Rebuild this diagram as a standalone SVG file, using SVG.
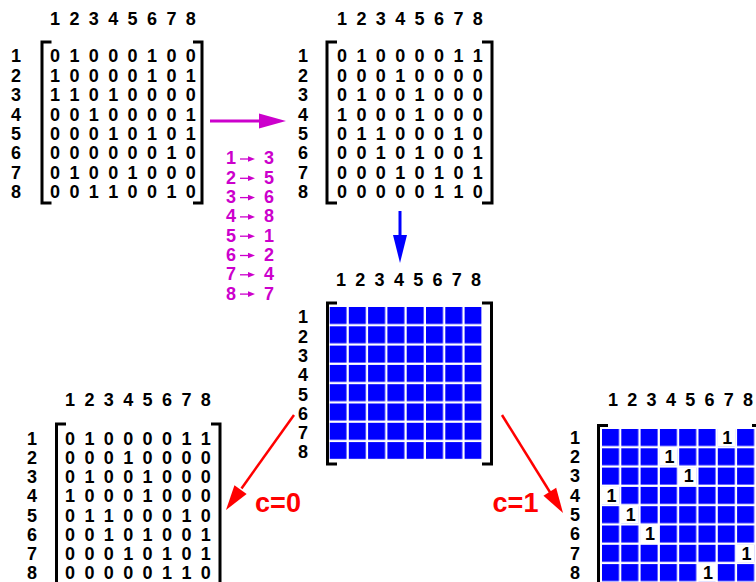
<svg xmlns="http://www.w3.org/2000/svg" xmlns:xlink="http://www.w3.org/1999/xlink" width="756" height="582" viewBox="0 0 756 582">
<style>
text{font-family:"Liberation Sans",Arial,sans-serif;font-weight:bold;font-size:18px;fill:#000;text-anchor:middle}
.br{fill:none;stroke:#000;stroke-width:3}
.mg{fill:#CC00CC}
.rl{fill:#FF0000;font-size:27px}
</style>
<defs>
<pattern id="cells" patternUnits="userSpaceOnUse" x="329.5" y="307" width="19.3" height="19.3"><rect x="0" y="0" width="17" height="17" fill="#0000FF"/></pattern>
<pattern id="cells2" patternUnits="userSpaceOnUse" x="602" y="429" width="19.3" height="19.3"><rect x="0" y="0" width="17" height="17" fill="#0000FF"/></pattern>
<g id="sa"><path d="M0 0 H9" stroke="#CC00CC" stroke-width="1.3"/><polygon points="8,-2.8 15,0 8,2.8" fill="#CC00CC"/></g>
</defs>
<rect width="756" height="582" fill="#fff"/>

<g id="matrixA">
<text x="55 64.7 74.4 84.1 93.8 103.5 113.2 122.9 132.6 142.3 152 161.7 171.4 181.1 190.8" y="24.5">1 2 3 4 5 6 7 8</text>
<text x="16" y="62.4">1</text><text x="16" y="81.8">2</text><text x="16" y="101.2">3</text><text x="16" y="120.6">4</text><text x="16" y="140">5</text><text x="16" y="159.4">6</text><text x="16" y="178.8">7</text><text x="16" y="198.2">8</text>
<path class="br" d="M51.5 42 H42 V203 H51.5"/><path class="br" d="M193 42 H202 V203 H193"/>
<g>
<text x="55 64.7 74.4 84.1 93.8 103.5 113.2 122.9 132.6 142.3 152 161.7 171.4 181.1 190.8" y="62.4">0 1 0 0 0 1 0 0</text>
<text x="55 64.7 74.4 84.1 93.8 103.5 113.2 122.9 132.6 142.3 152 161.7 171.4 181.1 190.8" y="81.8">1 0 0 0 0 1 0 1</text>
<text x="55 64.7 74.4 84.1 93.8 103.5 113.2 122.9 132.6 142.3 152 161.7 171.4 181.1 190.8" y="101.2">1 1 0 1 0 0 0 0</text>
<text x="55 64.7 74.4 84.1 93.8 103.5 113.2 122.9 132.6 142.3 152 161.7 171.4 181.1 190.8" y="120.6">0 0 1 0 0 0 0 1</text>
<text x="55 64.7 74.4 84.1 93.8 103.5 113.2 122.9 132.6 142.3 152 161.7 171.4 181.1 190.8" y="140">0 0 0 1 0 1 0 1</text>
<text x="55 64.7 74.4 84.1 93.8 103.5 113.2 122.9 132.6 142.3 152 161.7 171.4 181.1 190.8" y="159.4">0 0 0 0 0 0 1 0</text>
<text x="55 64.7 74.4 84.1 93.8 103.5 113.2 122.9 132.6 142.3 152 161.7 171.4 181.1 190.8" y="178.8">0 1 0 0 1 0 0 0</text>
<text x="55 64.7 74.4 84.1 93.8 103.5 113.2 122.9 132.6 142.3 152 161.7 171.4 181.1 190.8" y="198.2">0 0 1 1 0 0 1 0</text>
</g>
</g>

<g id="matrixB">
<text x="342 351.7 361.4 371.1 380.8 390.5 400.2 409.9 419.6 429.3 439 448.7 458.4 468.1 477.8" y="24.5">1 2 3 4 5 6 7 8</text>
<text x="303" y="62.4">1</text><text x="303" y="81.8">2</text><text x="303" y="101.2">3</text><text x="303" y="120.6">4</text><text x="303" y="140">5</text><text x="303" y="159.4">6</text><text x="303" y="178.8">7</text><text x="303" y="198.2">8</text>
<path class="br" d="M337 42 H327 V203 H337"/><path class="br" d="M482 42 H492 V203 H482"/>
<g>
<text x="342 351.7 361.4 371.1 380.8 390.5 400.2 409.9 419.6 429.3 439 448.7 458.4 468.1 477.8" y="62.4">0 1 0 0 0 0 1 1</text>
<text x="342 351.7 361.4 371.1 380.8 390.5 400.2 409.9 419.6 429.3 439 448.7 458.4 468.1 477.8" y="81.8">0 0 0 1 0 0 0 0</text>
<text x="342 351.7 361.4 371.1 380.8 390.5 400.2 409.9 419.6 429.3 439 448.7 458.4 468.1 477.8" y="101.2">0 1 0 0 1 0 0 0</text>
<text x="342 351.7 361.4 371.1 380.8 390.5 400.2 409.9 419.6 429.3 439 448.7 458.4 468.1 477.8" y="120.6">1 0 0 0 1 0 0 0</text>
<text x="342 351.7 361.4 371.1 380.8 390.5 400.2 409.9 419.6 429.3 439 448.7 458.4 468.1 477.8" y="140">0 1 1 0 0 0 1 0</text>
<text x="342 351.7 361.4 371.1 380.8 390.5 400.2 409.9 419.6 429.3 439 448.7 458.4 468.1 477.8" y="159.4">0 0 1 0 1 0 0 1</text>
<text x="342 351.7 361.4 371.1 380.8 390.5 400.2 409.9 419.6 429.3 439 448.7 458.4 468.1 477.8" y="178.8">0 0 0 1 0 1 0 1</text>
<text x="342 351.7 361.4 371.1 380.8 390.5 400.2 409.9 419.6 429.3 439 448.7 458.4 468.1 477.8" y="198.2">0 0 0 0 0 1 1 0</text>
</g>
</g>

<g id="mapping">
<text class="mg" x="231" y="164.4">1</text><use xlink:href="#sa" href="#sa" x="240" y="159"/><text class="mg" x="269" y="164.4">3</text>
<text class="mg" x="231" y="183.7">2</text><use xlink:href="#sa" href="#sa" x="240" y="178.3"/><text class="mg" x="269" y="183.7">5</text>
<text class="mg" x="231" y="203">3</text><use xlink:href="#sa" href="#sa" x="240" y="197.6"/><text class="mg" x="269" y="203">6</text>
<text class="mg" x="231" y="222.3">4</text><use xlink:href="#sa" href="#sa" x="240" y="216.9"/><text class="mg" x="269" y="222.3">8</text>
<text class="mg" x="231" y="241.6">5</text><use xlink:href="#sa" href="#sa" x="240" y="236.2"/><text class="mg" x="269" y="241.6">1</text>
<text class="mg" x="231" y="260.9">6</text><use xlink:href="#sa" href="#sa" x="240" y="255.5"/><text class="mg" x="269" y="260.9">2</text>
<text class="mg" x="231" y="280.2">7</text><use xlink:href="#sa" href="#sa" x="240" y="274.8"/><text class="mg" x="269" y="280.2">4</text>
<text class="mg" x="231" y="299.5">8</text><use xlink:href="#sa" href="#sa" x="240" y="294.1"/><text class="mg" x="269" y="299.5">7</text>
</g>

<g id="gridMiddle">
<text x="341 350.65 360.3 369.95 379.6 389.25 398.9 408.55 418.2 427.85 437.5 447.15 456.8 466.45 476.1" y="285.5">1 2 3 4 5 6 7 8</text>
<text x="303" y="323.3">1</text><text x="303" y="342.6">2</text><text x="303" y="361.9">3</text><text x="303" y="381.2">4</text><text x="303" y="400.5">5</text><text x="303" y="419.8">6</text><text x="303" y="439.1">7</text><text x="303" y="458.4">8</text>
<rect x="329.5" y="307" width="152.1" height="152.1" fill="url(#cells)"/>
<path class="br" d="M337 303 H327.5 V464 H337"/><path class="br" d="M482 303 H491.5 V464 H482"/>
</g>

<g id="matrixC">
<text x="70 79.7 89.4 99.1 108.8 118.5 128.2 137.9 147.6 157.3 167 176.7 186.4 196.1 205.8" y="406.3">1 2 3 4 5 6 7 8</text>
<text x="32" y="445.1">1</text><text x="32" y="464.2">2</text><text x="32" y="483.3">3</text><text x="32" y="502.4">4</text><text x="32" y="521.5">5</text><text x="32" y="540.6">6</text><text x="32" y="559.7">7</text><text x="32" y="578.6">8</text>
<path class="br" d="M66 424 H56.5 V600"/><path class="br" d="M211 424 H220 V600"/>
<g>
<text x="70 79.7 89.4 99.1 108.8 118.5 128.2 137.9 147.6 157.3 167 176.7 186.4 196.1 205.8" y="445.1">0 1 0 0 0 0 1 1</text>
<text x="70 79.7 89.4 99.1 108.8 118.5 128.2 137.9 147.6 157.3 167 176.7 186.4 196.1 205.8" y="464.2">0 0 0 1 0 0 0 0</text>
<text x="70 79.7 89.4 99.1 108.8 118.5 128.2 137.9 147.6 157.3 167 176.7 186.4 196.1 205.8" y="483.3">0 1 0 0 1 0 0 0</text>
<text x="70 79.7 89.4 99.1 108.8 118.5 128.2 137.9 147.6 157.3 167 176.7 186.4 196.1 205.8" y="502.4">1 0 0 0 1 0 0 0</text>
<text x="70 79.7 89.4 99.1 108.8 118.5 128.2 137.9 147.6 157.3 167 176.7 186.4 196.1 205.8" y="521.5">0 1 1 0 0 0 1 0</text>
<text x="70 79.7 89.4 99.1 108.8 118.5 128.2 137.9 147.6 157.3 167 176.7 186.4 196.1 205.8" y="540.6">0 0 1 0 1 0 0 1</text>
<text x="70 79.7 89.4 99.1 108.8 118.5 128.2 137.9 147.6 157.3 167 176.7 186.4 196.1 205.8" y="559.7">0 0 0 1 0 1 0 1</text>
<text x="70 79.7 89.4 99.1 108.8 118.5 128.2 137.9 147.6 157.3 167 176.7 186.4 196.1 205.8" y="578.6">0 0 0 0 0 1 1 0</text>
</g>
</g>

<g id="gridD">
<text x="613 622.65 632.3 641.95 651.6 661.25 670.9 680.55 690.2 699.85 709.5 719.15 728.8 738.45 748.1" y="406.3">1 2 3 4 5 6 7 8</text>
<text x="575" y="443.8">1</text><text x="575" y="463.1">2</text><text x="575" y="482.4">3</text><text x="575" y="501.7">4</text><text x="575" y="521">5</text><text x="575" y="540.3">6</text><text x="575" y="559.6">7</text><text x="575" y="578.6">8</text>
<rect x="602" y="429" width="160" height="160" fill="url(#cells2)"/>
<g fill="#fff">
<rect x="717.3" y="428.5" width="18" height="18"/>
<rect x="659.4" y="447.8" width="18" height="18"/>
<rect x="678.7" y="467.1" width="18" height="18"/>
<rect x="601.5" y="486.4" width="18" height="18"/>
<rect x="620.8" y="505.7" width="18" height="18"/>
<rect x="640.1" y="525" width="18" height="18"/>
<rect x="736.6" y="544.3" width="18" height="18"/>
<rect x="698" y="563.6" width="18" height="18"/>
</g>
<text x="727.3" y="443.8">1</text>
<text x="669.4" y="463.1">1</text>
<text x="688.7" y="482.4">1</text>
<text x="611.5" y="501.7">1</text>
<text x="630.8" y="521">1</text>
<text x="650.1" y="540.3">1</text>
<text x="746.6" y="559.6">1</text>
<text x="708" y="578.6">1</text>
<path class="br" d="M608 425.5 H598.5 V600"/><path class="br" d="M752 425.5 H758 V600"/>
</g>

<g id="connectors">
<path d="M210 121 H261" stroke="#CC00CC" stroke-width="3"/>
<polygon points="259,113.5 286,121 259,128.5" fill="#CC00CC"/>
<path d="M400 211 V237" stroke="#0000FF" stroke-width="3"/>
<polygon points="393,235 400,263 407,235" fill="#0000FF"/>
<path d="M294 415 L241.5 488.4" stroke="#FF0000" stroke-width="2.5"/>
<polygon points="246.65,494.07 226,510 234.45,485.33" fill="#FF0000"/>
<path d="M502 415 L550.5 493" stroke="#FF0000" stroke-width="2.5"/>
<polygon points="556.17,487.84 563,513 543.43,495.76" fill="#FF0000"/>
<text class="rl" x="278" y="512">c=0</text>
<text class="rl" x="515.5" y="512">c=1</text>
</g>
</svg>
